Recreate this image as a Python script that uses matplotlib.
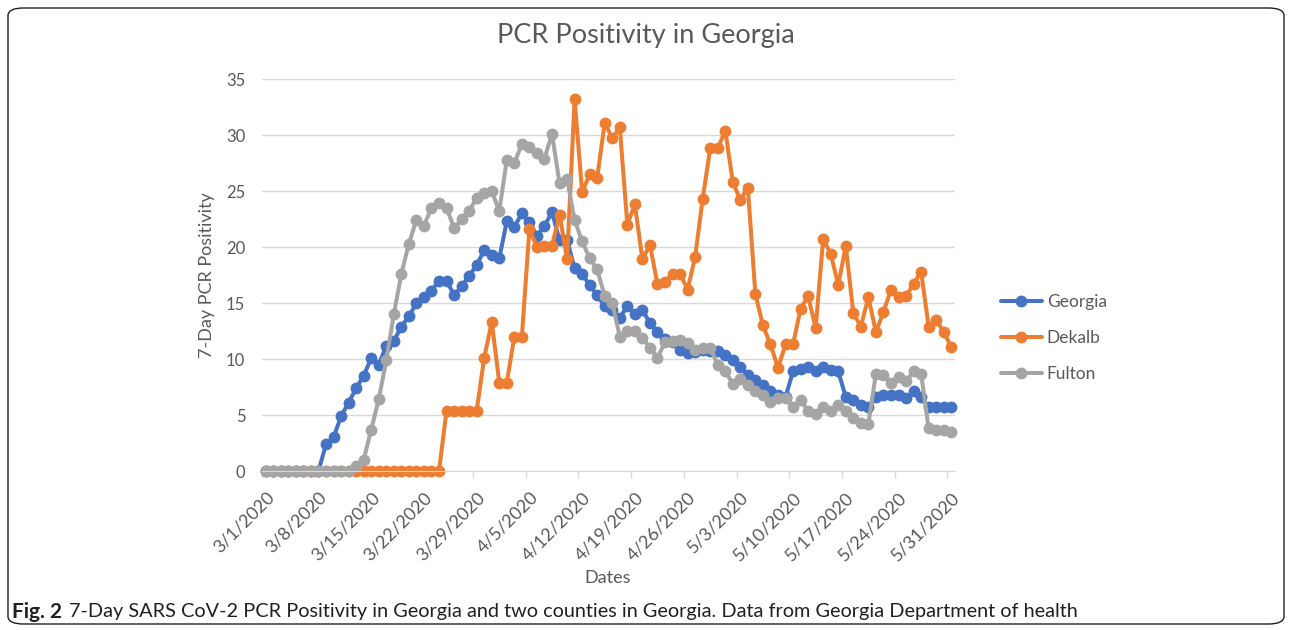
import numpy as np
import pandas as pd
import matplotlib
matplotlib.use('Agg')
from matplotlib import pyplot as plt
from matplotlib.patches import FancyBboxPatch


# Data (one value per day, 3/1/2020 .. 5/31/2020)
dates = pd.date_range('2020-03-01', '2020-05-31', freq='D')

georgia = [0]*8 + [
    2.4, 3.0, 4.9, 6.1, 7.4, 8.5, 10.1, 9.5, 11.2, 11.6,      # d8-17
    12.9, 13.8, 15.0, 15.5, 16.1, 17.0, 17.0, 15.7, 16.5, 17.4,  # d18-27
    18.4, 19.7, 19.3, 19.0, 22.3, 21.8, 23.0, 22.2, 21.0, 21.9,  # d28-37
    23.1, 20.6, 20.6, 18.1, 17.6, 16.6, 15.7, 14.7, 14.4, 13.7,  # d38-47
    14.7, 14.0, 14.4, 13.2, 12.4, 11.8, 11.5, 10.8, 10.5, 10.6,  # d48-57
    10.8, 10.7, 10.7, 10.4, 9.9, 9.3, 8.6, 8.1, 7.7, 7.1,        # d58-67
    6.8, 6.6, 8.9, 9.1, 9.3, 8.9, 9.3, 9.0, 8.9, 6.6,            # d68-77
    6.3, 5.9, 5.7, 6.6, 6.8, 6.8, 6.8, 6.5, 7.1, 6.6,            # d78-87
    5.7, 5.7, 5.7, 5.7]                                          # d88-91

dekalb = [0]*24 + [5.4]*5 + [
    10.1, 13.3, 7.9, 7.9, 12.0, 12.0, 21.6, 20.0, 20.1, 20.1,    # d29-38
    22.9, 18.9, 33.2, 24.9, 26.5, 26.2, 31.1, 29.7, 30.7, 22.0,  # d39-48
    23.8, 18.9, 20.2, 16.7, 16.9, 17.6, 17.6, 16.2, 19.1, 24.3,  # d49-58
    28.8, 28.8, 30.4, 25.8, 24.2, 25.3, 15.8, 13.0, 11.3, 9.2,   # d59-68
    11.3, 11.3, 14.5, 15.6, 12.8, 20.7, 19.4, 16.6, 20.1, 14.1,  # d69-78
    12.9, 15.5, 12.4, 14.2, 16.2, 15.5, 15.6, 16.7, 17.8, 12.9,  # d79-88
    13.5, 12.4, 11.1]                                            # d89-91

fulton = [0]*12 + [
    0.45, 1.0, 3.7, 6.4, 9.9, 14.0, 17.6, 20.3, 22.4, 21.9,      # d12-21
    23.5, 23.9, 23.5, 21.7, 22.5, 23.2, 24.4, 24.8, 25.0, 23.2,  # d22-31
    27.8, 27.5, 29.2, 28.9, 28.4, 27.9, 30.1, 25.7, 26.1, 22.4,  # d32-41
    20.5, 19.0, 18.0, 15.6, 15.0, 12.0, 12.5, 12.5, 11.9, 11.0,  # d42-51
    10.1, 11.5, 11.6, 11.7, 11.4, 10.8, 11.0, 11.0, 9.5, 8.9,    # d52-61
    7.8, 8.2, 7.7, 7.1, 6.8, 6.2, 6.5, 6.5, 5.7, 6.3,            # d62-71
    5.4, 5.1, 5.7, 5.4, 5.9, 5.4, 4.7, 4.3, 4.2, 8.7,            # d72-81
    8.6, 7.9, 8.4, 8.0, 8.9, 8.7, 3.8, 3.7, 3.7, 3.5]            # d82-91

series = [('Georgia', georgia, '#4472C4'),
          ('Dekalb',  dekalb,  '#ED7D31'),
          ('Fulton',  fulton,  '#A5A5A5')]

tick_labels = [f'{d.month}/{d.day}/{d.year}' for d in dates[::7]]

txt = '#595959'
plt.rcParams['font.family'] = ['Lato', 'DejaVu Sans']
W, H = 1292, 630


# Plot
fig = plt.figure(figsize=(W/100, H/100), dpi=100)
ax = fig.add_axes([262/W, 1-471/H, (955-262)/W, (471-79)/H])

x = np.arange(len(dates))
for name, vals, col in series:
    ax.plot(x, vals, '-o', color=col, lw=2.9, ms=7.5, label=name,
            solid_capstyle='round', clip_on=False)

ax.set_xlim(-0.5, len(dates)-0.5)
ax.set_ylim(0, 35)
ax.set_yticks(range(0, 36, 5))
ax.grid(axis='y', color='#D9D9D9', lw=1.0)
ax.set_axisbelow(True)
for s in ['top', 'right', 'left']:
    ax.spines[s].set_visible(False)
ax.spines['bottom'].set_color('#D9D9D9')
ax.tick_params(axis='y', length=0, labelsize=12, labelcolor=txt, pad=12)

# labels at every 7th day, tick marks between categories
ax.set_xticks(x[::7])
ax.set_xticklabels(tick_labels, rotation=45, ha='right', rotation_mode='anchor')
ax.tick_params(axis='x', which='major', length=0, labelsize=13, labelcolor=txt, pad=13)
ax.set_xticks(np.arange(-0.5, len(dates), 7), minor=True)
ax.tick_params(axis='x', which='minor', length=5, color='#D9D9D9', width=1)

ax.set_ylabel('7-Day PCR Positivity', fontsize=13, color=txt, labelpad=8)
fig.text(608/W, 1-578/H, 'Dates', ha='center', va='center', fontsize=13, color=txt)
fig.text(0.5, 1-36/H, 'PCR Positivity in Georgia', ha='center', va='center',
         fontsize=19.5, color=txt)

leg = fig.legend(*ax.get_legend_handles_labels(), loc='center left',
                 bbox_to_anchor=(985/W, 1-338/H), frameon=False,
                 fontsize=12.5, handlelength=2.4, labelspacing=1.15, handletextpad=0.25)
for t in leg.get_texts():
    t.set_color(txt)

# caption + frame
cy = 1-612/H
fig_lbl = fig.text(12/W, cy, 'Fig. 2', fontsize=15, fontweight='bold', va='center',
                   color='#231F20')
bb = fig_lbl.get_window_extent(fig.canvas.get_renderer())
fig.text((bb.x1 + 7)/W, cy, '7-Day SARS CoV-2 PCR Positivity in Georgia and two counties '
         'in Georgia. Data from Georgia Department of health', fontsize=14.3, va='center',
         color='#231F20')
frame = FancyBboxPatch((8/W, 1-624/H), 1276/W, 616/H,
                       boxstyle='round,pad=0,rounding_size=0.012', transform=fig.transFigure,
                       fill=False, ec='#231F20', lw=1.0)
fig.patches.append(frame)

fig.savefig('out.png', dpi=100)
